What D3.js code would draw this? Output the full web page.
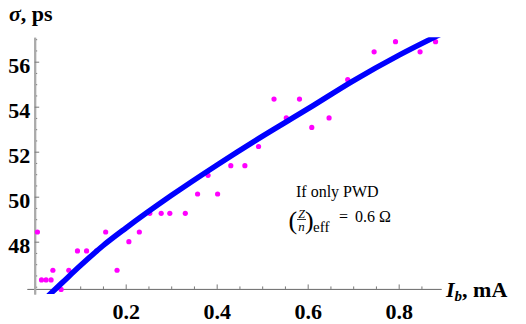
<!DOCTYPE html>
<html>
<head>
<meta charset="utf-8">
<script src="https://cdn.jsdelivr.net/npm/d3@7"></script>
<style>
  body { margin: 0; background: #fff; }
  svg { display: block; font-family: "Liberation Serif", "Times New Roman", serif; }
  svg text { font-family: "Liberation Serif", "Times New Roman", serif; }
  .tick text { font-weight: bold; font-size: 22px; fill: #000; }
</style>
</head>
<body>
<div id="chart"></div>
<script>
// measured points: beam current (mA) vs bunch length sigma (ps)
const currentMA = [0.006, 0.015, 0.025, 0.036, 0.040, 0.058, 0.075, 0.094, 0.114, 0.136,
  0.156, 0.181, 0.207, 0.230, 0.253, 0.278, 0.297, 0.331, 0.358, 0.381,
  0.402, 0.431, 0.462, 0.492, 0.526, 0.553, 0.582, 0.609, 0.647, 0.688,
  0.746, 0.793, 0.847, 0.881];
const sigmaPs = [48.43, 46.30, 46.30, 46.30, 46.73, 45.88, 46.73, 47.59, 47.59, 47.59,
  48.43, 46.73, 48.00, 48.43, 49.26, 49.26, 49.26, 49.26, 50.12, 50.95,
  50.12, 51.38, 51.38, 52.23, 54.34, 53.50, 54.34, 53.08, 53.50, 55.20,
  56.44, 56.89, 56.44, 56.89];

// fitted curve (PWD only)
const fitCurrent = [0.03, 0.06, 0.10, 0.15, 0.20, 0.30, 0.40, 0.50, 0.60, 0.70, 0.80, 0.90];
const fitSigma = [45.60, 46.17, 46.93, 47.82, 48.60, 50.05, 51.40, 52.68, 53.90, 55.15, 56.28, 57.30];

const xMajor = [0.2, 0.4, 0.6, 0.8];
const yMajor = [48, 50, 52, 54, 56];

const width = 526, height = 324;

const svg = d3.select('#chart').append('svg')
  .attr('width', width)
  .attr('height', height);

const x = d3.scaleLinear().domain([-0.0169, 0.893]).range([27, 441]);
const y = d3.scaleLinear().domain([45.68, 57.084]).range([293.9, 37.3]);
const xOrigin = 0, yOrigin = 45.9;

const xMinor = d3.range(0.05, 0.9, 0.05).filter(v => !xMajor.some(m => Math.abs(m - v) < 1e-6));
const yMinor = d3.range(46, 57.01, 0.5).filter(v => !yMajor.some(m => Math.abs(m - v) < 1e-6));

// clip for the plot range
svg.append('clipPath').attr('id', 'plotClip')
  .append('rect')
  .attr('x', x.range()[0]).attr('y', y.range()[1])
  .attr('width', x.range()[1] - x.range()[0])
  .attr('height', y.range()[0] - y.range()[1]);

// x axis
const gx = svg.append('g')
  .attr('transform', `translate(0,${y(yOrigin)})`);
gx.append('g')
  .call(d3.axisBottom(x).tickValues(xMinor).tickSizeInner(-2.5).tickSizeOuter(0).tickFormat(''))
  .call(g => g.select('.domain').attr('stroke', '#777'));
gx.append('g')
  .call(d3.axisBottom(x).tickValues(xMajor).tickSizeInner(-4.5).tickSizeOuter(0).tickPadding(14.5).tickFormat(d3.format('.1f')))
  .call(g => g.select('.domain').attr('stroke', '#777'));
gx.selectAll('.tick line').attr('stroke', '#777');

// y axis
const gy = svg.append('g')
  .attr('transform', `translate(${x(xOrigin)},0)`);
gy.append('g')
  .call(d3.axisLeft(y).tickValues(yMinor).tickSizeInner(-2.5).tickSizeOuter(0).tickFormat(''))
  .call(g => g.select('.domain').attr('stroke', '#aaa').attr('stroke-width', 2));
gy.append('g')
  .call(d3.axisLeft(y).tickValues(yMajor).tickSizeInner(-4.5).tickSizeOuter(0).tickPadding(4.5))
  .call(g => g.select('.domain').attr('stroke', '#aaa').attr('stroke-width', 2))
  .call(g => g.selectAll('.tick text').attr('dy', '0.48em'));
gy.selectAll('.tick line').attr('stroke', '#777');

// data points
svg.append('g')
  .selectAll('circle')
  .data(currentMA.map((c, i) => [c, sigmaPs[i]]))
  .enter().append('circle')
  .attr('cx', d => x(d[0]))
  .attr('cy', d => y(d[1]))
  .attr('r', 2.6)
  .attr('fill', '#ff00ff');

// fitted line
const line = d3.line()
  .x(d => x(d[0]))
  .y(d => y(d[1]))
  .curve(d3.curveMonotoneX);

svg.append('path')
  .datum(fitCurrent.map((c, i) => [c, fitSigma[i]]))
  .attr('clip-path', 'url(#plotClip)')
  .attr('d', line)
  .attr('fill', 'none')
  .attr('stroke', '#0000ff')
  .attr('stroke-width', 5.5);

// axis labels
const yLabel = svg.append('text')
  .attr('x', 9).attr('y', 20.5)
  .attr('font-size', 22).attr('font-weight', 'bold');
yLabel.append('tspan').attr('font-style', 'italic').text('σ');
yLabel.append('tspan').text(', ps');

const xLabel = svg.append('text')
  .attr('x', 446).attr('y', 297)
  .attr('font-size', 22).attr('font-weight', 'bold');
xLabel.append('tspan').attr('font-style', 'italic').text('I');
xLabel.append('tspan').attr('font-style', 'italic').attr('font-size', 15).attr('dy', 4).text('b');
xLabel.append('tspan').attr('dy', -4).text(', mA');

// annotation
const note = svg.append('g').attr('font-size', 16);
note.append('text').attr('x', 296).attr('y', 197).text('If only PWD');
note.append('text').attr('x', 288.5).attr('y', 229).attr('font-size', 26).text('(');
note.append('text').attr('x', 301.5).attr('y', 217.5).attr('font-size', 12).attr('font-style', 'italic').attr('text-anchor', 'middle').text('Z');
note.append('line').attr('x1', 297).attr('x2', 306).attr('y1', 219.5).attr('y2', 219.5).attr('stroke', '#000').attr('stroke-width', 0.8);
note.append('text').attr('x', 301.5).attr('y', 231).attr('font-size', 13).attr('font-style', 'italic').attr('text-anchor', 'middle').text('n');
note.append('text').attr('x', 305).attr('y', 229).attr('font-size', 26).text(')');
note.append('text').attr('x', 313).attr('y', 232).attr('font-size', 15).text('eff');
note.append('text').attr('x', 339).attr('y', 222).text('=');
note.append('text').attr('x', 355).attr('y', 222).text('0.6 Ω');
</script>
</body>
</html>
